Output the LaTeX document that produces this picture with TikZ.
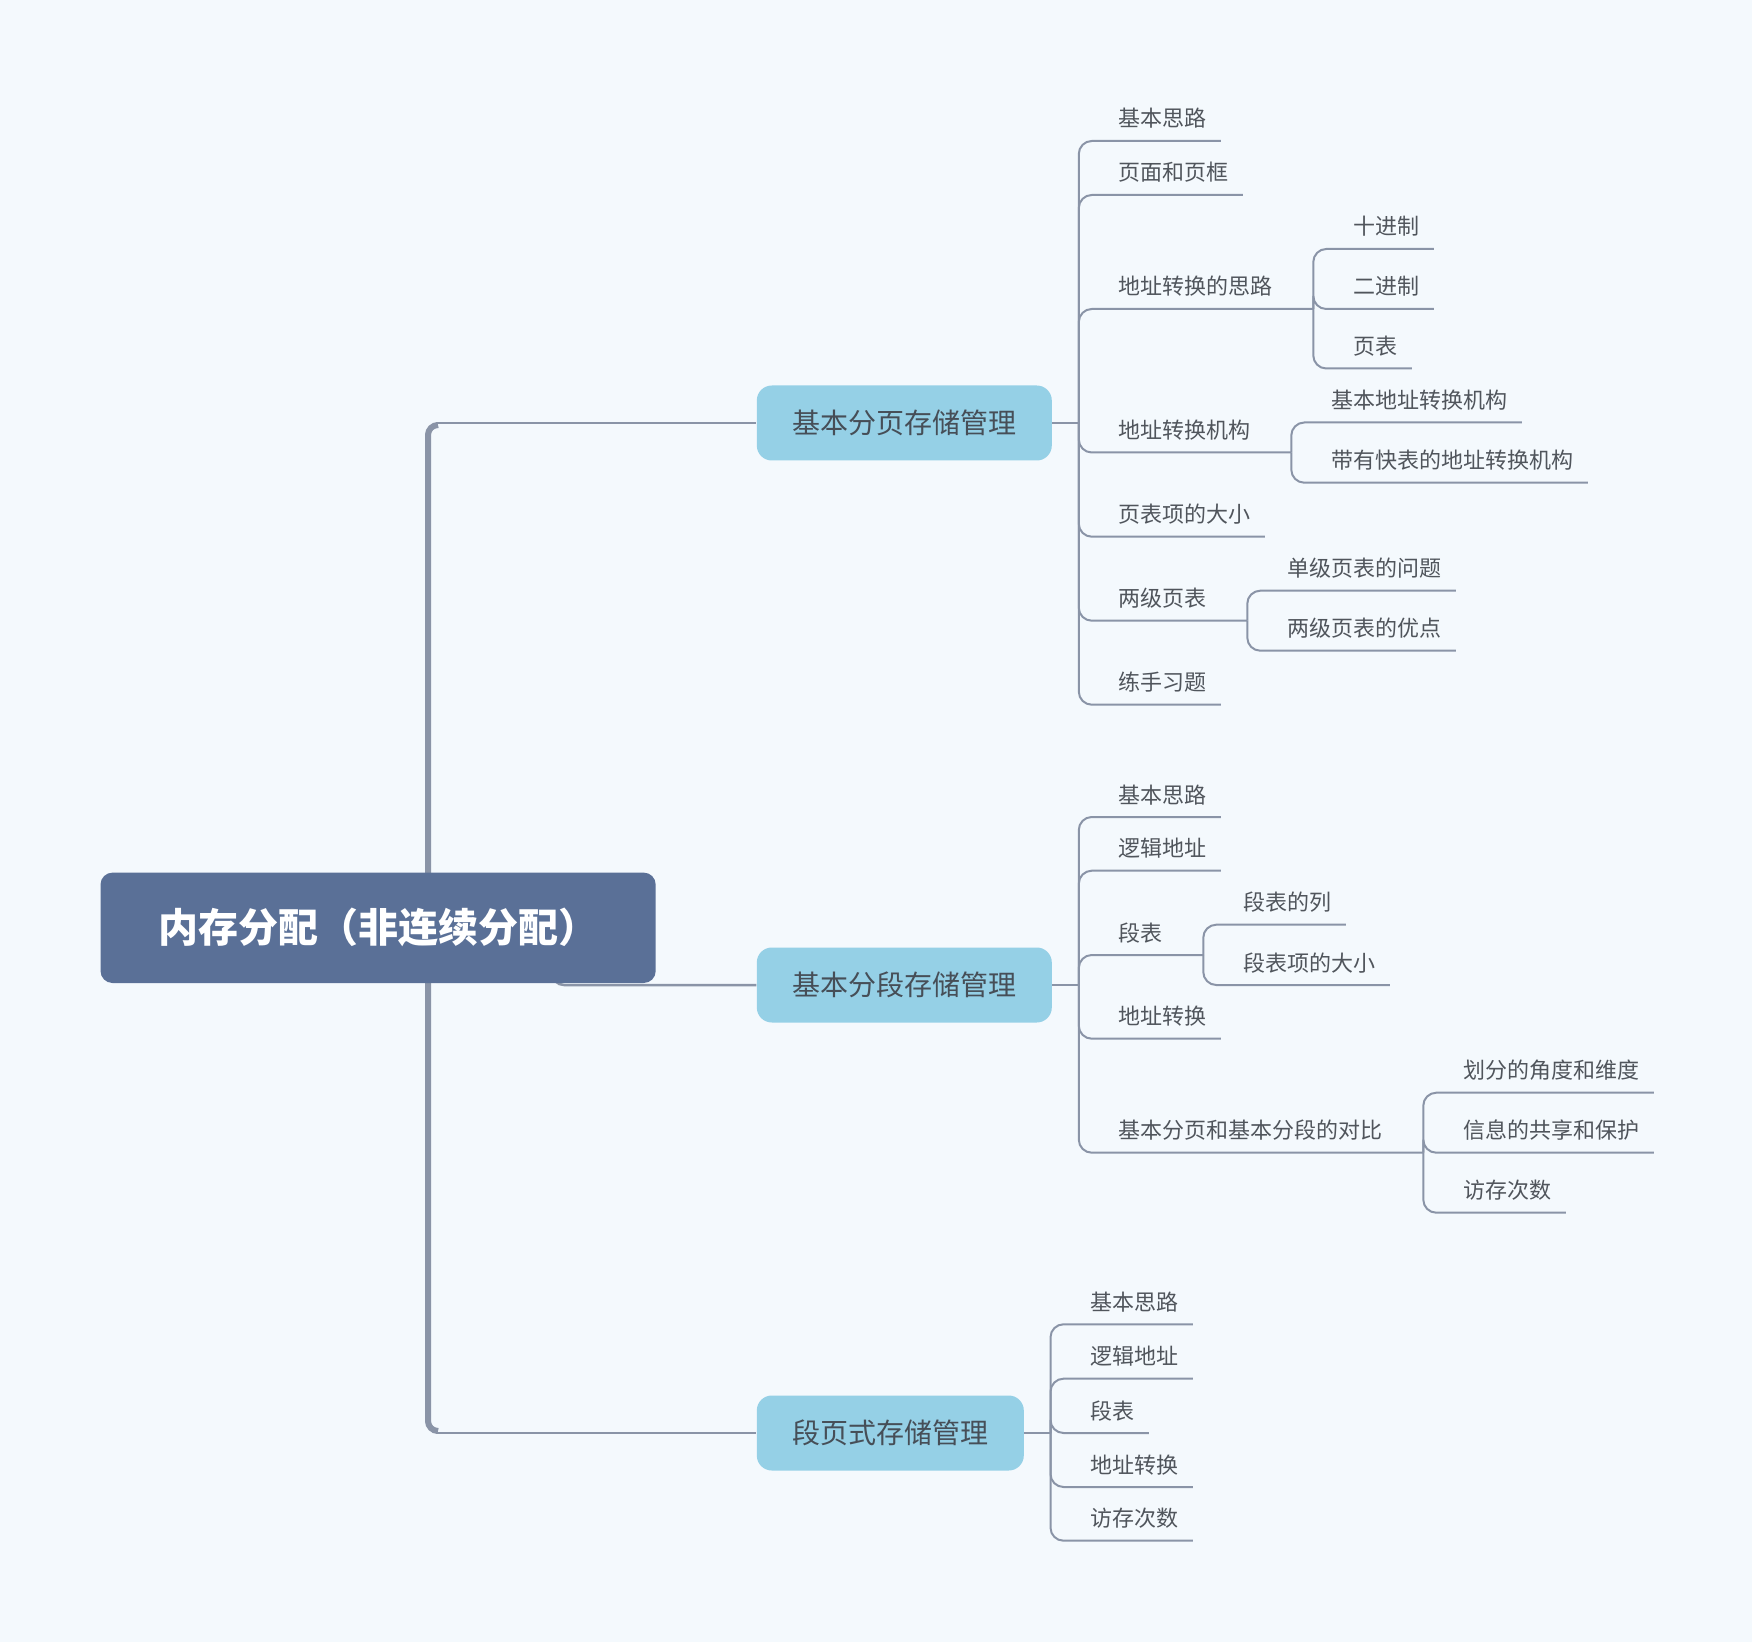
\documentclass[tikz,border=0pt]{standalone}
\usepackage{fontspec}
\setmainfont{Noto Sans CJK SC}
\usetikzlibrary{calc}
\definecolor{bgc}{HTML}{F4F9FD}
\definecolor{rootfill}{HTML}{5A7097}
\definecolor{brfill}{HTML}{95D0E6}
\definecolor{brtext}{HTML}{464E57}
\definecolor{leaftext}{HTML}{50555C}
\definecolor{linec}{HTML}{8A94A7}
\pgfdeclarelayer{back}
\pgfdeclarelayer{lines}
\pgfsetlayers{back,lines,main}
\newcommand\mmleaf[5]{%
  \node[leaf] (#1) at (#2,#3) {#5};
  \coordinate (#1e) at ($(#1.base east)+(#4,14)$);}
\begin{document}
\begin{tikzpicture}[x=0.5pt,y=-0.5pt,
  rootbox/.style={fill=rootfill, rounded corners=6pt, minimum width=277.6pt,
    minimum height=55.2pt, inner sep=0pt, text=white,
    font=\fontsize{20pt}{24pt}\selectfont\bfseries},
  branch/.style={fill=brfill, rounded corners=7.5pt, minimum height=37.5pt,
    inner xsep=17.75pt, inner ysep=0pt, text=brtext, anchor=west,
    font=\fontsize{14pt}{17pt}\selectfont},
  leaf/.style={inner sep=0pt, anchor=base west, text=leaftext,
    font=\fontsize{11pt}{13pt}\selectfont},
  conn/.style={draw=linec, line width=1pt, rounded corners=6.5pt},
  brline/.style={draw=linec, line width=1.25pt, rounded corners=6pt},
  trunk/.style={draw=linec, line width=3pt, rounded corners=5pt}]
\begin{pgfonlayer}{back}
\fill[bgc] (0,0) rectangle (1752,1642);
\end{pgfonlayer}
\useasboundingbox (0,0) rectangle (1752,1642);

% root and branches
\node[rootbox] (root) at (378.1,927.8) {内存分配（非连续分配）};
\node[branch] (B1) at (756.4,423) {基本分页存储管理};
\node[branch] (B2) at (756.4,985) {基本分段存储管理};
\node[branch] (B3) at (756.4,1433) {段页式存储管理};

\coordinate (tk) at (428,928);
\coordinate (tt) at (438,425);
\coordinate (tb) at (438,1431);
\coordinate (tt2) at (436,423);
\coordinate (tb2) at (436,1433);
\coordinate (m0) at (552,928);
\coordinate (j1) at ($(B1.east)+(26.6,0)$);
\coordinate (j2) at ($(B2.east)+(26.6,0)$);
\coordinate (j3) at ($(B3.east)+(26.3,0)$);

% B1 children
\mmleaf{a1}{1118}{127}{14}{基本思路}
\mmleaf{a2}{1118}{181}{14}{页面和页框}
\mmleaf{a3}{1118}{295}{40.5}{地址转换的思路}
\mmleaf{a31}{1353}{235}{14}{十进制}
\mmleaf{a32}{1353}{295}{14}{二进制}
\mmleaf{a33}{1353}{354.5}{14}{页表}
\mmleaf{a4}{1118}{438.5}{40.5}{地址转换机构}
\mmleaf{a41}{1331}{408.5}{14}{基本地址转换机构}
\mmleaf{a42}{1331}{468.7}{14}{带有快表的地址转换机构}
\mmleaf{a5}{1118}{522.7}{14}{页表项的大小}
\mmleaf{a6}{1118}{606.7}{40.5}{两级页表}
\mmleaf{a61}{1287}{576.7}{14}{单级页表的问题}
\mmleaf{a62}{1287}{636.7}{14}{两级页表的优点}
\mmleaf{a7}{1118}{690.7}{14}{练手习题}

% B2 children
\mmleaf{b1}{1118}{803}{14}{基本思路}
\mmleaf{b2}{1118}{856.7}{14}{逻辑地址}
\mmleaf{b3}{1118}{941}{40.5}{段表}
\mmleaf{b31}{1243}{910.7}{14}{段表的列}
\mmleaf{b32}{1243}{971}{14}{段表项的大小}
\mmleaf{b4}{1118}{1024.7}{14}{地址转换}
\mmleaf{b5}{1118}{1138.7}{40.5}{基本分页和基本分段的对比}
\mmleaf{b51}{1463}{1078.7}{14}{划分的角度和维度}
\mmleaf{b52}{1463}{1138.7}{14}{信息的共享和保护}
\mmleaf{b53}{1463}{1198.7}{14}{访存次数}

% B3 children
\mmleaf{c1}{1090}{1310.3}{14}{基本思路}
\mmleaf{c2}{1090}{1364.7}{14}{逻辑地址}
\mmleaf{c3}{1090}{1419}{14}{段表}
\mmleaf{c4}{1090}{1473}{14}{地址转换}
\mmleaf{c5}{1090}{1526.7}{14}{访存次数}

\begin{pgfonlayer}{lines}
% trunk
\draw[trunk] (tt) -| (tk);
\draw[trunk] (tb) -| (tk);
\draw[brline] (tt2) -- (B1.west);
\draw[brline] (tb2) -- (B3.west);
\draw[brline] (m0) |- (B2.west);
% stubs
\draw[conn] (B1.east) -- (j1);
\draw[conn] (B2.east) -- (j2);
\draw[conn] (B3.east) -- (j3);
% B1
\foreach \n in {a1,a2,a3,a4,a5,a6,a7} \draw[conn] (j1) |- (\n e);
\foreach \n in {a31,a32,a33} \draw[conn] (a3e) |- (\n e);
\foreach \n in {a41,a42} \draw[conn] (a4e) |- (\n e);
\foreach \n in {a61,a62} \draw[conn] (a6e) |- (\n e);
% B2
\foreach \n in {b1,b2,b3,b4,b5} \draw[conn] (j2) |- (\n e);
\foreach \n in {b31,b32} \draw[conn] (b3e) |- (\n e);
\foreach \n in {b51,b52,b53} \draw[conn] (b5e) |- (\n e);
% B3
\foreach \n in {c1,c2,c3,c4,c5} \draw[conn] (j3) |- (\n e);
\end{pgfonlayer}
\end{tikzpicture}
\end{document}
